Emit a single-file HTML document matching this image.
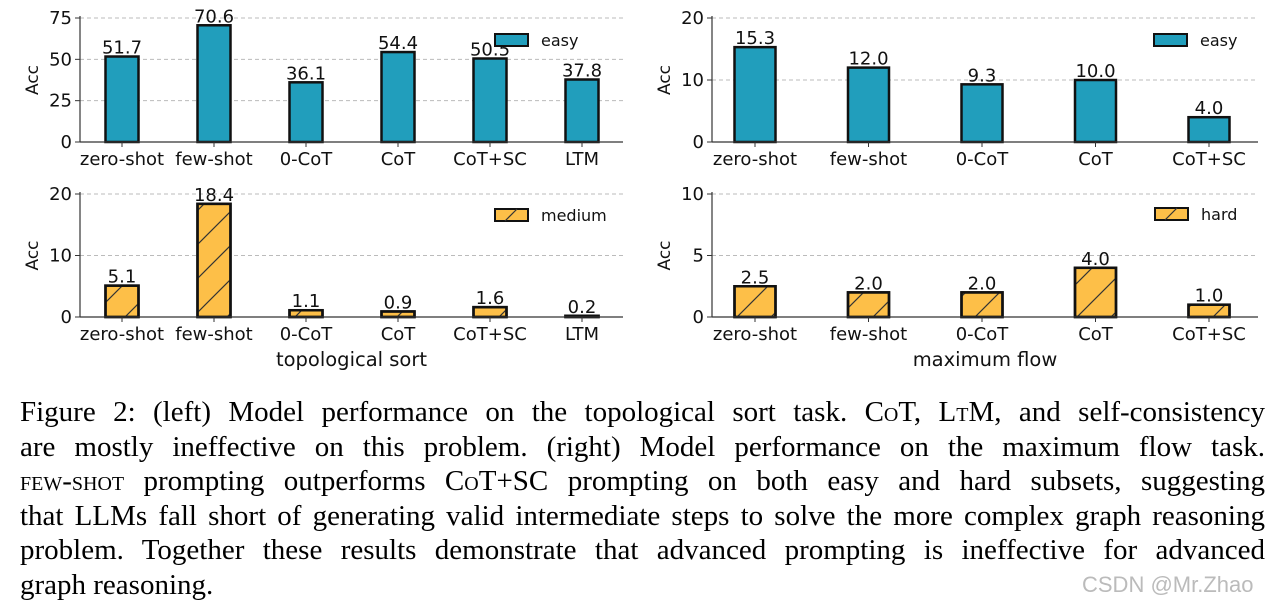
<!DOCTYPE html>
<html><head><meta charset="utf-8"><style>
body{margin:0;width:1271px;height:609px;background:#fff;overflow:hidden;position:relative;font-family:"DejaVu Sans",sans-serif}
svg{position:absolute;left:0;top:0}
svg text{font-family:"DejaVu Sans",sans-serif}
#cap{position:absolute;left:20px;top:395px;width:1245px;font-family:"Liberation Serif",serif;font-size:29px;line-height:34.6px;color:#000}
#cap div{text-align:justify;text-align-last:justify;white-space:nowrap}
#cap div.last{text-align-last:left}
.sc{font-variant:small-caps}
#wm{position:absolute;left:1082px;top:572px;font-size:22px;color:#bbb;font-family:"Liberation Sans",sans-serif}
</style></head><body>
<svg id="chart" width="1271" height="390">
<defs>
<pattern id="hatch" patternUnits="userSpaceOnUse" width="34" height="34">
<path d="M0,34 L34,0 M-8,8 L8,-8 M26,42 L42,26" stroke="#333" stroke-width="1.2"/>
</pattern>
</defs>
</svg>
<div id="cap">
<div>Figure 2: (left) Model performance on the topological sort task. C<span class="sc">o</span>T, L<span class="sc">t</span>M, and self-consistency</div>
<div>are mostly ineffective on this problem. (right) Model performance on the maximum flow task.</div>
<div><span class="sc">few-shot</span> prompting outperforms C<span class="sc">o</span>T+SC prompting on both easy and hard subsets, suggesting</div>
<div>that LLMs fall short of generating valid intermediate steps to solve the more complex graph reasoning</div>
<div>problem. Together these results demonstrate that advanced prompting is ineffective for advanced</div>
<div class="last">graph reasoning.</div>
</div>
<div id="wm">CSDN @Mr.Zhao</div>
<script>
const topoCats=["zero-shot","few-shot","0-CoT","CoT","CoT+SC","LTM"];
const topoEasy=[51.7,70.6,36.1,54.4,50.5,37.8];
const topoMedium=[5.1,18.4,1.1,0.9,1.6,0.2];
const flowCats=["zero-shot","few-shot","0-CoT","CoT","CoT+SC"];
const flowEasy=[15.3,12.0,9.3,10.0,4.0];
const flowHard=[2.5,2.0,2.0,4.0,1.0];
const topoEasyTicks=[0,25,50,75];
const topoMedTicks=[0,10,20];
const flowEasyTicks=[0,10,20];
const flowHardTicks=[0,5,10];

const svg=document.getElementById('chart');
const NS="http://www.w3.org/2000/svg";
function mk(tag,attrs,parent){const e=document.createElementNS(NS,tag);for(const k in attrs)e.setAttribute(k,attrs[k]);(parent||svg).appendChild(e);return e;}

function panel(name,cats,vals,ticks,ymax,x0,x1,y0,y1,c0,step,bw,color,hatch,legend,lx,ly,xlabel){
  const g=mk('g',{});
  
  
  const ys=v=>y0-(v/ymax)*(y0-y1);
  const xs=i=>c0+step*i;
  ticks.forEach(t=>{
    const y=ys(t);
    if(t>0){const gl=mk('line',{x1:x0,x2:x1,y1:y,y2:y,stroke:'#bbb','stroke-dasharray':'4,3','stroke-width':1},g);
      }
    mk('line',{x1:x0-5,x2:x0,y1:y,y2:y,stroke:'#333'},g);
    const tl=mk('text',{x:x0-8,y:y+6,'text-anchor':'end','font-size':18,fill:'#111'},g);
    tl.textContent=t;
    
    
  });
  cats.forEach((c,i)=>{
    const x=xs(i),v=vals[i],y=ys(v);
    const r=mk('rect',{x:x-bw/2,y:y,width:bw,height:y0-y,fill:color,stroke:'#111','stroke-width':2.5},g);
    
    
    if(hatch){const h=mk('rect',{x:x-bw/2,y:y,width:bw,height:y0-y,fill:'url(#hatch)',stroke:'#111','stroke-width':2.5},g);
      }
    const vl=mk('text',{x:x,y:y-3,'text-anchor':'middle','font-size':18,fill:'#111'},g);
    vl.textContent=v.toFixed(1);
    
    
    mk('line',{x1:x,x2:x,y1:y0,y2:y0+5,stroke:'#333'},g);
    const xl=mk('text',{x:x,y:y0+23,'text-anchor':'middle','font-size':18,fill:'#111'},g);
    xl.textContent=c;
    
    
  });
  mk('line',{x1:x0,x2:x0,y1:y1-2,y2:y0,stroke:'#333','stroke-width':1.2},g);
  mk('line',{x1:x0,x2:x1,y1:y0,y2:y0,stroke:'#333','stroke-width':1.2},g);
  const yt=mk('text',{x:0,y:0,transform:`translate(${x0-42},${(y0+y1)/2}) rotate(-90)`,'text-anchor':'middle','font-size':17,fill:'#111'},g);
  yt.textContent='Acc';
  
  
  const lr=mk('rect',{x:lx,y:ly,width:33,height:12,fill:color,stroke:'#111','stroke-width':2},g);
  
  if(hatch)mk('path',{d:`M${lx+10},${ly+12} L${lx+22},${ly}`,stroke:'#333','stroke-width':1.2},g);
  const lt=mk('text',{x:lx+46,y:ly+12,'font-size':16,fill:'#111'},g);
  lt.textContent=legend;
  
  if(xlabel){const xt=mk('text',{x:(x0+x1)/2,y:y0+49,'text-anchor':'middle','font-size':19.5,fill:'#111'},g);
    xt.textContent=xlabel;}
}
panel('topo-easy',topoCats,topoEasy,topoEasyTicks,75,80,623,142,18,122,92,33,'#219ebc',false,'easy',495,34,null);
panel('topo-medium',topoCats,topoMedium,topoMedTicks,20,80,623,317,194,122,92,33,'#fdbf48',true,'medium',495,209,'topological sort');
panel('flow-easy',flowCats,flowEasy,flowEasyTicks,20,712,1258,142,18,755,113.5,41,'#219ebc',false,'easy',1154,34,null);
panel('flow-hard',flowCats,flowHard,flowHardTicks,10,712,1258,317,194,755,113.5,41,'#fdbf48',true,'hard',1155,208,'maximum flow');
</script>
</body></html>
